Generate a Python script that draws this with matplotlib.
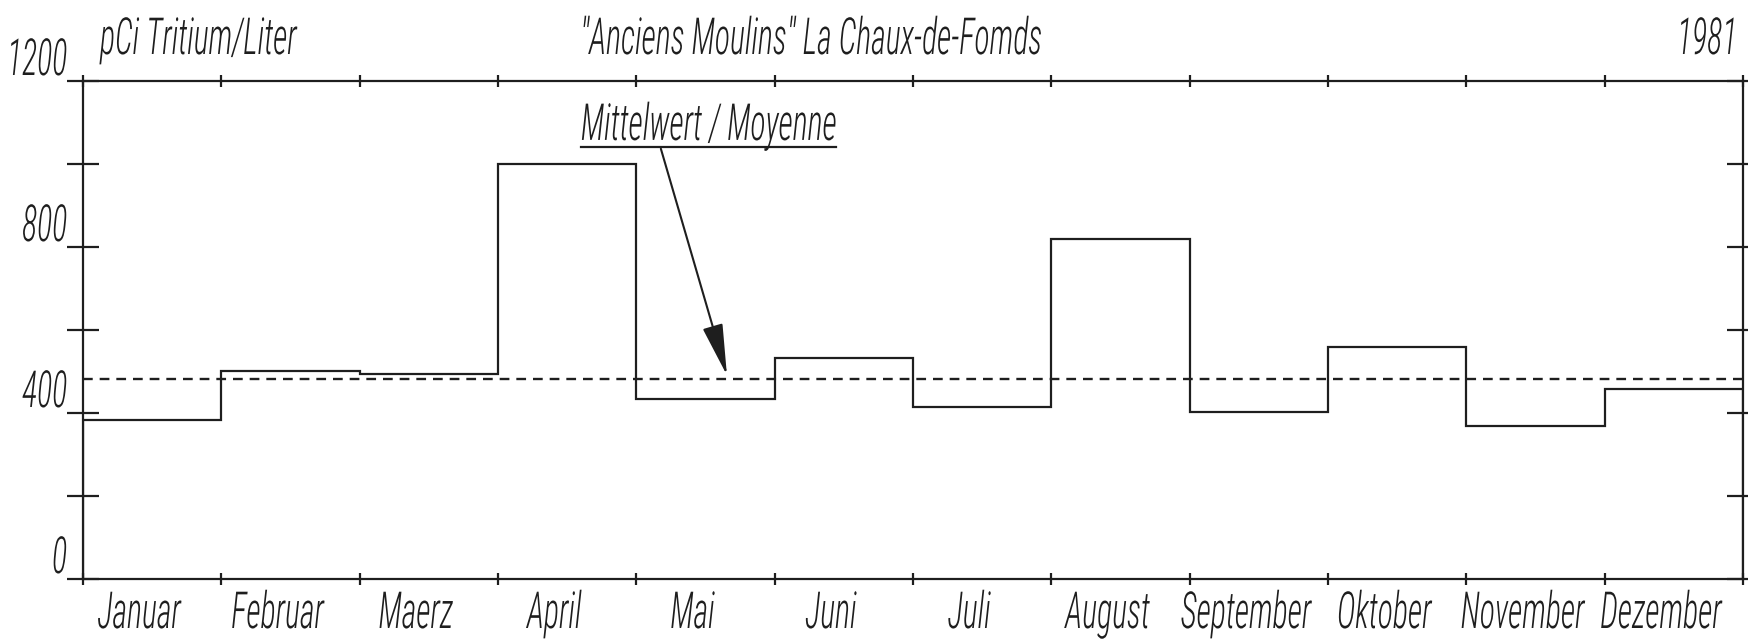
import matplotlib
matplotlib.use('Agg')
import matplotlib.pyplot as plt
import matplotlib.transforms as mtransforms
import matplotlib.text as mtext
from matplotlib import font_manager as fm
from matplotlib.patheffects import AbstractPathEffect
import numpy as np

# Tritium, Monatswerte 1981
months = ['Januar', 'Februar', 'Maerz', 'April', 'Mai', 'Juni',
          'Juli', 'August', 'September', 'Oktober', 'November', 'Dezember']
tritium = [383, 502, 494, 1000, 434, 532, 414, 819, 402, 560, 369, 457]
mittelwert = 481
y_ticks = [0, 200, 400, 600, 800, 1000, 1200]
y_labels = ['0', '', '400', '', '800', '', '1200']

title = '"Anciens Moulins" La Chaux-de-Fomds'


class Tall(AbstractPathEffect):
    """Glyphen senkrecht strecken (Plotter-Schrift ist hoch und schmal)."""

    def __init__(self, k):
        super().__init__()
        self.k = k

    def draw_path(self, renderer, gc, tpath, affine, rgbFace=None):
        y0 = affine.get_matrix()[1, 2]
        stretch = mtransforms.Affine2D().translate(0, -y0).scale(1, self.k).translate(0, y0)
        renderer.draw_path(gc, tpath, affine + stretch, rgbFace)


# schmale Schrift suchen
names = {f.name for f in fm.fontManager.ttflist}
narrow = sorted({f.name for f in fm.fontManager.ttflist if f.stretch == 'condensed'})
family = 'DejaVu Sans'
for cand in ['Noto Sans ExtraCondensed', 'Noto Sans Condensed', 'DejaVu Sans Condensed',
             'Liberation Sans Narrow', 'Roboto Condensed', 'Open Sans Condensed']:
    if cand in names:
        family = cand
        break
else:
    if narrow:
        family = narrow[0]

ink = '#1e1e1e'
plt.rcParams['font.family'] = [family, 'DejaVu Sans']
plt.rcParams['font.style'] = 'italic'
plt.rcParams['font.stretch'] = 'condensed'
plt.rcParams['font.weight'] = 'light'
plt.rcParams['lines.scale_dashes'] = False

fig = plt.figure(figsize=(17.49, 6.44), dpi=100)

# Schriftgroesse so, dass der Titel ~462 px breit ist
probe = fig.text(0, 0, title, fontsize=20)
fig.canvas.draw()
fs = 20 * 462 / probe.get_window_extent().width
probe.remove()
tall = [Tall(1.6)]

ax = fig.add_axes([83 / 1749, 65 / 644, 1660 / 1749, 498 / 644])

ax.stairs(tritium, np.arange(len(tritium) + 1), color=ink, lw=1.6)
ax.axhline(mittelwert, color=ink, lw=1.7, dashes=(7, 5))

ax.set_xlim(0, 12)
ax.set_ylim(0, 1200)
for s in ax.spines.values():
    s.set_linewidth(1.6)
    s.set_color(ink)

ax.set_xticks(np.arange(13))
ax.set_xticklabels([])
ax.tick_params(axis='x', direction='inout', length=8, width=1.6, top=True, color=ink)
ax.set_yticks(y_ticks)
ax.set_yticklabels(y_labels)
ax.tick_params(axis='y', direction='inout', length=23, width=1.6, right=True,
               pad=0, labelsize=fs, color=ink, labelcolor=ink)
for lbl in ax.get_yticklabels():
    lbl.set_va('bottom')
    lbl.set_path_effects(tall)

off = mtransforms.ScaledTranslation(-13 / 100, -49 / 100, fig.dpi_scale_trans)
for i, m in enumerate(months):
    ax.text(i + 0.5, 0, m, transform=ax.get_xaxis_transform() + off,
            ha='center', va='baseline', fontsize=fs, color=ink, path_effects=tall)

top = 1 - 54 / 644
fig.text(100 / 1749, top, 'pCi Tritium/Liter', ha='left', va='baseline', fontsize=fs,
         color=ink, path_effects=tall)
fig.text(811 / 1749, top, title, ha='center', va='baseline', fontsize=fs, color=ink,
         path_effects=tall)
fig.text(1737 / 1749, top, '1981', ha='right', va='baseline', fontsize=fs, color=ink,
         path_effects=tall)

label_xy = (4.522, 1058)
ann = ax.annotate('Mittelwert / Moyenne', xy=(4.655, mittelwert + 10), xytext=label_xy,
                  ha='center', va='baseline', fontsize=fs, color=ink, path_effects=tall,
                  arrowprops=dict(arrowstyle='-|>,head_length=1.4,head_width=0.28', color=ink,
                                  lw=1.5, shrinkA=0, shrinkB=0, relpos=(0.31, 0)))

# Unterstreichung, 7 px unter der Grundlinie
fig.canvas.draw()
bb = mtext.Text.get_window_extent(ann)
base_y = ax.transData.transform(label_xy)[1] - 7
ax.plot([bb.x0, bb.x1], [base_y, base_y], transform=mtransforms.IdentityTransform(),
        color=ink, lw=1.6)

fig.savefig('out.png', dpi=100)
